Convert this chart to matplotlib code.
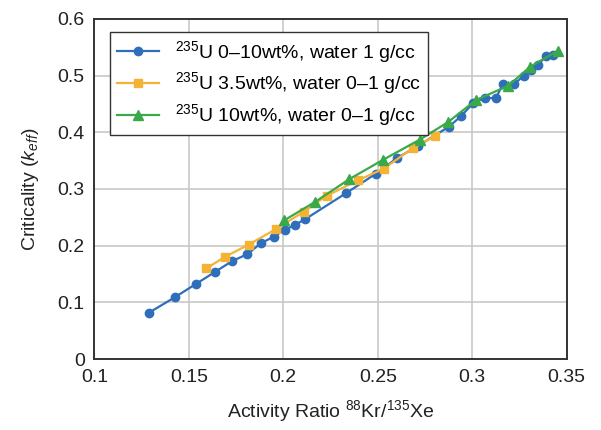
import matplotlib
matplotlib.use("Agg")
import matplotlib.pyplot as plt
from matplotlib.ticker import FuncFormatter

plt.rcParams['font.family'] = ['Liberation Sans', 'DejaVu Sans']
plt.rcParams['mathtext.fontset'] = 'custom'
plt.rcParams['mathtext.rm'] = 'Liberation Sans'
plt.rcParams['mathtext.it'] = 'Liberation Sans:italic'

# 235U 0-10wt%, water 1 g/cc
blue_x = [0.129, 0.1426, 0.154, 0.164, 0.173, 0.181, 0.188, 0.195, 0.2008, 0.2064,
          0.2117, 0.2334, 0.249, 0.2604, 0.2713, 0.2877, 0.2939, 0.3004, 0.3066,
          0.3124, 0.3163, 0.3221, 0.3274, 0.3313, 0.3348, 0.3389, 0.3428]
blue_y = [0.082, 0.109, 0.133, 0.154, 0.173, 0.185, 0.204, 0.216, 0.228, 0.237,
          0.247, 0.293, 0.327, 0.355, 0.376, 0.410, 0.428, 0.451, 0.461,
          0.460, 0.485, 0.485, 0.500, 0.510, 0.519, 0.534, 0.537]

# 235U 3.5wt%, water 0-1 g/cc
orange_x = [0.1593, 0.169, 0.1817, 0.196, 0.2108, 0.2229, 0.2393, 0.2533, 0.2684, 0.2802]
orange_y = [0.160, 0.180, 0.202, 0.229, 0.260, 0.288, 0.315, 0.336, 0.372, 0.393]

# 235U 10wt%, water 0-1 g/cc
green_x = [0.2004, 0.2167, 0.235, 0.2528, 0.2722, 0.2872, 0.302, 0.319, 0.3308, 0.3454]
green_y = [0.2445, 0.277, 0.3175, 0.3515, 0.387, 0.418, 0.457, 0.482, 0.516, 0.544]

labels = [r'$^{235}$U 0–10wt%, water 1 g/cc',
          r'$^{235}$U 3.5wt%, water 0–1 g/cc',
          r'$^{235}$U 10wt%, water 0–1 g/cc']

fig = plt.figure(figsize=(6.01, 4.30), dpi=100)
ax = fig.add_axes([0.157, 0.165, 0.786, 0.791])

ax.plot(blue_x, blue_y, color='#2f6eba', marker='o', ms=6, lw=1.6, label=labels[0])
ax.plot(orange_x, orange_y, color='#f5b335', marker='s', ms=5.5, lw=1.6, label=labels[1])
ax.plot(green_x, green_y, color='#3aa94a', marker='^', ms=7, lw=1.6, label=labels[2])

ax.set_xlim(0.1, 0.35)
ax.set_ylim(0, 0.6)
ax.set_xticks([0.1, 0.15, 0.2, 0.25, 0.3, 0.35])
ax.set_yticks([0, 0.1, 0.2, 0.3, 0.4, 0.5, 0.6])
fmt = FuncFormatter(lambda v, p: '%g' % round(v, 3))
ax.xaxis.set_major_formatter(fmt)
ax.yaxis.set_major_formatter(fmt)
ax.tick_params(length=0, labelsize=14, pad=7, colors='#222222')
ax.grid(True, color='#c8c8c8', lw=1.2)
ax.set_axisbelow(True)
for s in ax.spines.values():
    s.set_linewidth(1.4)
    s.set_color('#333333')

ax.set_xlabel(r'Activity Ratio $^{88}$Kr/$^{135}$Xe', fontsize=14, labelpad=9, color='#222222')
ax.set_ylabel(r'Criticality ($k_{eff}$)', fontsize=14, labelpad=12, color='#222222')

leg = ax.legend(loc='upper left', bbox_to_anchor=(0.012, 0.99), fontsize=14,
                fancybox=False, edgecolor='#333333', framealpha=1,
                handlelength=2.2, borderpad=0.35, labelspacing=0.3, handletextpad=0.8)
leg.get_frame().set_linewidth(1.0)

fig.savefig('out.png', dpi=100)
